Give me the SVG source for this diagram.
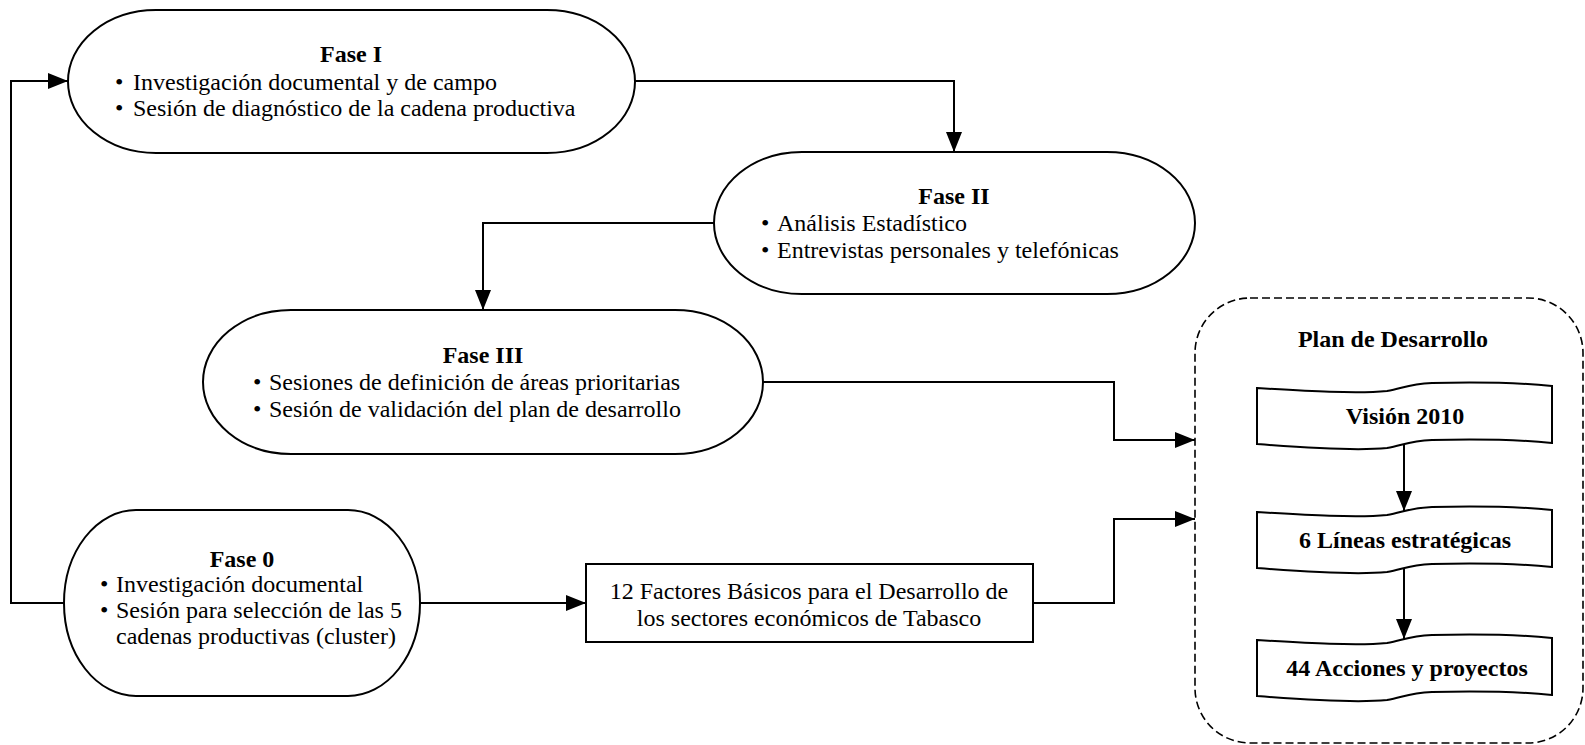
<svg xmlns="http://www.w3.org/2000/svg" width="1585" height="745" viewBox="0 0 1585 745">
<style>
.shape{fill:#fff;stroke:#000;stroke-width:2}
.conn{fill:none;stroke:#000;stroke-width:2}
.dash{fill:none;stroke:#000;stroke-width:1.6;stroke-dasharray:8,4}
text{font-family:"Liberation Serif","Times New Roman",serif;font-size:24px;fill:#000}
.b{font-weight:bold}
.c{text-anchor:middle}
</style>
<defs>
<marker id="arr" markerWidth="20" markerHeight="16" refX="20" refY="8" orient="auto" markerUnits="userSpaceOnUse">
<path d="M0,0 L20,8 L0,16 z" fill="#000"/>
</marker>
<path id="tape" d="M0,6 C50,9 100,12 130,9 C145,7 150,2 175,1 C215,0 265,1 295,4 L295,61 C265,58 215,57 175,58 C150,59 145,64 130,66 C100,69 50,66 0,62 Z"/>
</defs>

<g id="plan">
<rect class="dash" x="1195" y="298" width="388" height="445" rx="55" ry="55"/>
<text class="b c" x="1393" y="347">Plan de Desarrollo</text>
</g>

<g id="vision">
<use href="#tape" x="1257" y="382" class="shape"/>
<text class="b c" x="1405" y="424">Visión 2010</text>
</g>
<g id="lineas">
<use href="#tape" x="1257" y="506" class="shape"/>
<text class="b c" x="1405" y="548">6 Líneas estratégicas</text>
</g>
<g id="acciones">
<use href="#tape" x="1257" y="634" class="shape"/>
<text class="b c" x="1407" y="676">44 Acciones y proyectos</text>
</g>

<g id="fase1">
<rect class="shape" x="68" y="10" width="567" height="143" rx="88" ry="71.5"/>
<text class="b c" x="351" y="62">Fase I</text>
<text x="115" y="90">•</text><text x="133" y="90">Investigación documental y de campo</text>
<text x="115" y="116">•</text><text x="133" y="116">Sesión de diagnóstico de la cadena productiva</text>
</g>

<g id="fase2">
<rect class="shape" x="714" y="152" width="481" height="142" rx="88" ry="71"/>
<text class="b c" x="954" y="204">Fase II</text>
<text x="761" y="231">•</text><text x="777" y="231">Análisis Estadístico</text>
<text x="761" y="258">•</text><text x="777" y="258">Entrevistas personales y telefónicas</text>
</g>

<g id="fase3">
<rect class="shape" x="203" y="310" width="560" height="144" rx="88" ry="72"/>
<text class="b c" x="483" y="363">Fase III</text>
<text x="253" y="390">•</text><text x="269" y="390">Sesiones de definición de áreas prioritarias</text>
<text x="253" y="417">•</text><text x="269" y="417">Sesión de validación del plan de desarrollo</text>
</g>

<g id="fase0">
<rect class="shape" x="64" y="510" width="356" height="186" rx="72" ry="93"/>
<text class="b c" x="242" y="567">Fase 0</text>
<text x="100" y="592">•</text><text x="116" y="592">Investigación documental</text>
<text x="100" y="618">•</text><text x="116" y="618">Sesión para selección de las 5</text>
<text x="116" y="644">cadenas productivas (cluster)</text>
</g>

<g id="factores">
<rect class="shape" x="586" y="564" width="447" height="78"/>
<text class="c" x="809" y="599">12 Factores Básicos para el Desarrollo de</text>
<text class="c" x="809" y="626">los sectores económicos de Tabasco</text>
</g>

<g id="connectors">
<path class="conn" d="M635,81 H954 V152" marker-end="url(#arr)"/>
<path class="conn" d="M714,223 H483 V310" marker-end="url(#arr)"/>
<path class="conn" d="M763,382 H1114 V440 H1195" marker-end="url(#arr)"/>
<path class="conn" d="M64,603 H11 V81 H68" marker-end="url(#arr)"/>
<path class="conn" d="M420,603 H586" marker-end="url(#arr)"/>
<path class="conn" d="M1033,603 H1114 V519 H1195" marker-end="url(#arr)"/>
<path class="conn" d="M1404,444 V511" marker-end="url(#arr)"/>
<path class="conn" d="M1404,568 V639" marker-end="url(#arr)"/>
</g>
</svg>
